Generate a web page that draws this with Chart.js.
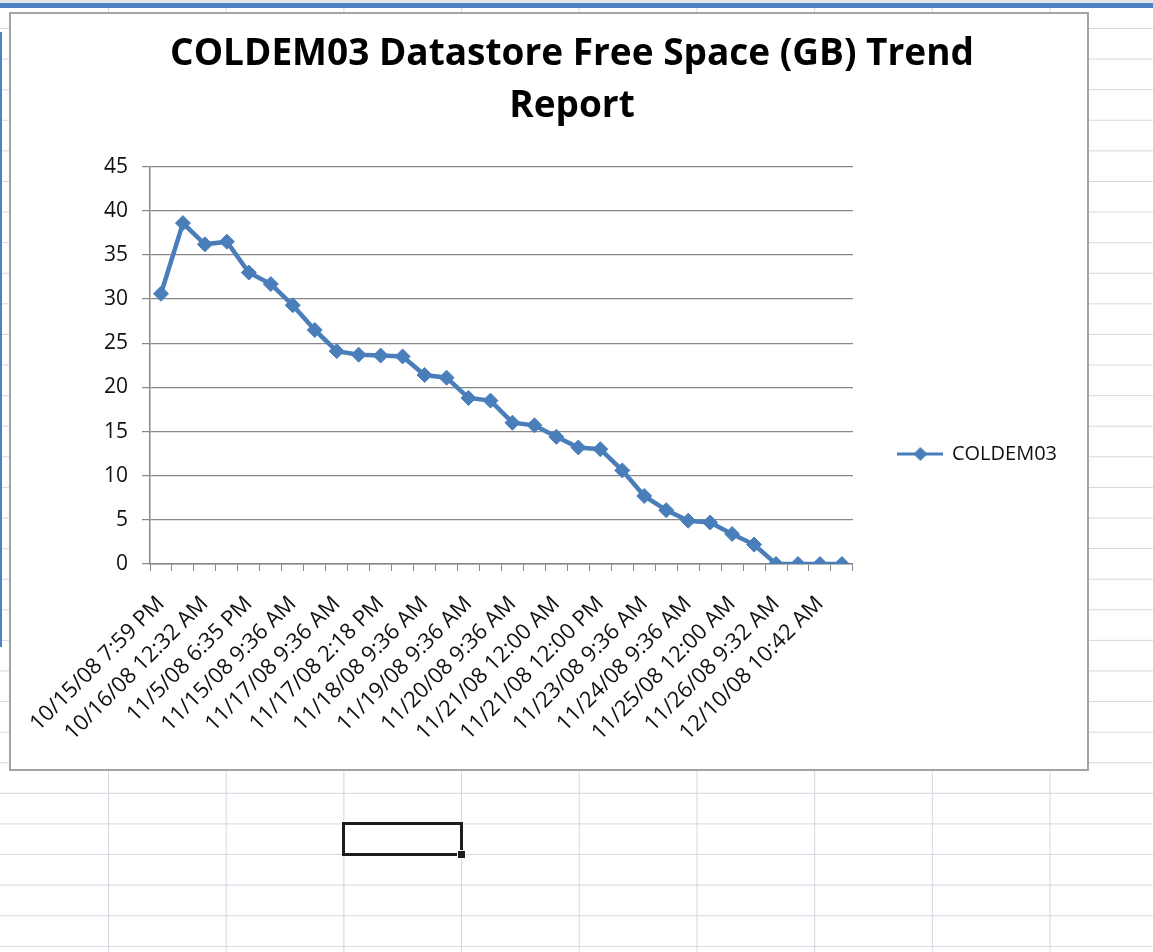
<!DOCTYPE html>
<html>
<head>
<meta charset="utf-8">
<title>COLDEM03 Datastore Free Space (GB) Trend Report</title>
<script src="https://cdn.jsdelivr.net/npm/chart.js@4.4.1/dist/chart.umd.min.js"></script>
<style>
  html, body {
    margin: 0;
    padding: 0;
    width: 1153px;
    height: 952px;
    overflow: hidden;
    background-color: #fff;
  }
  /* worksheet cells behind the chart */
  .sheet {
    position: absolute;
    left: 0; top: 0;
    width: 1153px; height: 952px;
    background-image:
      linear-gradient(to bottom, #d3d8e1 1px, transparent 1px),
      linear-gradient(to right, #d3d8e1 1px, transparent 1px);
    background-size: 100% 30.6px, 117.7px 100%;
    background-position: 0 28px, 108px 0;
  }
  .topbar {
    position: absolute;
    left: 0; top: 0;
    width: 1153px; height: 3px;
    background: #e4e7ec;
  }
  .topbar2 {
    position: absolute;
    left: 0; top: 3px;
    width: 1153px; height: 5px;
    background: #4f82c4;
  }
  .sidebar {
    position: absolute;
    left: 0; top: 32px;
    width: 2px; height: 615px;
    background: #4f82c4;
  }
  .chart-box {
    position: absolute;
    left: 9px; top: 12px;
    width: 1076px; height: 755px;
    border: 2px solid #a3a3a3;
    background: #fff;
  }
  .chart-box canvas {
    position: absolute;
    left: 0; top: 0;
  }
  .cell {
    position: absolute;
    left: 342px; top: 822px;
    width: 115px; height: 28px;
    border: 3px solid #1c1c1c;
  }
  .handle {
    position: absolute;
    left: 457px; top: 850px;
    width: 7px; height: 7px;
    background: #1c1c1c;
    border: 1px solid #fff;
  }
</style>
</head>
<body>
<div class="sheet"></div>
<div class="topbar"></div>
<div class="topbar2"></div>
<div class="sidebar"></div>
<div class="chart-box">
  <canvas id="trendChart" width="1076" height="755"></canvas>
</div>
<div class="cell"></div>
<div class="handle"></div>

<script>
// sample times (only every other one is printed on the axis)
const sampleTimes = [
  '10/15/08 7:59 PM', '10/15/08 10:16 PM',
  '10/16/08 12:32 AM', '10/21/08 9:36 AM',
  '11/5/08 6:35 PM', '11/10/08 9:36 AM',
  '11/15/08 9:36 AM', '11/16/08 9:36 AM',
  '11/17/08 9:36 AM', '11/17/08 12:00 PM',
  '11/17/08 2:18 PM', '11/18/08 12:00 AM',
  '11/18/08 9:36 AM', '11/18/08 9:36 PM',
  '11/19/08 9:36 AM', '11/19/08 9:36 PM',
  '11/20/08 9:36 AM', '11/20/08 9:36 PM',
  '11/21/08 12:00 AM', '11/21/08 9:36 AM',
  '11/21/08 12:00 PM', '11/22/08 9:36 AM',
  '11/23/08 9:36 AM', '11/23/08 9:36 PM',
  '11/24/08 9:36 AM', '11/24/08 9:36 PM',
  '11/25/08 12:00 AM', '11/25/08 9:36 AM',
  '11/26/08 9:32 AM', '12/3/08 9:36 AM',
  '12/10/08 10:42 AM', '12/10/08 2:15 PM'
];

// free space in GB
const freeSpaceGB = [
  30.6, 38.6, 36.2, 36.5, 33.0, 31.7, 29.3, 26.5,
  24.1, 23.7, 23.6, 23.5, 21.4, 21.1, 18.8, 18.5,
  16.0, 15.7, 14.4, 13.2, 13.0, 10.6, 7.7, 6.1,
  4.9, 4.7, 3.4, 2.2, 0, 0, 0, 0
];

const seriesName = 'COLDEM03';
const chartTitle = ['COLDEM03 Datastore Free Space (GB) Trend', 'Report'];
const yTicks = { min: 0, max: 45, step: 5 };

const lineBlue = '#4a7ebb';
const axisGray = '#878787';
const fontFamily = "'Open Sans', 'Liberation Sans', sans-serif";

// little line-with-diamond sample for the legend
function makeLegendMark() {
  const c = document.createElement('canvas');
  c.width = 46;
  c.height = 16;
  const g = c.getContext('2d');
  g.strokeStyle = lineBlue;
  g.lineWidth = 3;
  g.beginPath();
  g.moveTo(0, 8);
  g.lineTo(46, 8);
  g.stroke();
  g.fillStyle = lineBlue;
  g.beginPath();
  g.moveTo(23, 1);
  g.lineTo(30, 8);
  g.lineTo(23, 15);
  g.lineTo(16, 8);
  g.closePath();
  g.fill();
  return c;
}

document.addEventListener('DOMContentLoaded', () => {
  const legendMark = makeLegendMark();
  const ctx = document.getElementById('trendChart').getContext('2d');

  new Chart(ctx, {
    type: 'line',
    data: {
      labels: sampleTimes,
      datasets: [{
        label: seriesName,
        data: freeSpaceGB,
        borderColor: lineBlue,
        backgroundColor: lineBlue,
        borderWidth: 4.5,
        pointStyle: 'rectRot',
        pointRadius: 7.5,
        pointHoverRadius: 9,
        pointBorderWidth: 1,
        pointBackgroundColor: lineBlue,
        pointBorderColor: lineBlue,
        tension: 0,
        fill: false
      }]
    },
    options: {
      responsive: false,
      animation: false,
      devicePixelRatio: 1,
      // left padding nudges the title a little right of centre, like the sheet chart
      layout: { padding: { left: 66, right: 20, top: 0, bottom: 0 } },
      plugins: {
        title: {
          display: true,
          text: chartTitle,
          color: '#000',
          font: { family: fontFamily, size: 37, weight: 'bold', lineHeight: 1.4 },
          padding: { top: 15, bottom: 34 }
        },
        legend: {
          position: 'right',
          title: {
            display: true,
            text: '',
            font: { size: 10, lineHeight: 1 },
            padding: { top: 0, bottom: 115 }
          },
          labels: {
            usePointStyle: true,
            pointStyleWidth: 43,
            padding: 46,
            color: '#111',
            font: { family: fontFamily, size: 20 },
            generateLabels(chart) {
              const items = Chart.defaults.plugins.legend.labels.generateLabels(chart);
              items.forEach(it => { it.pointStyle = legendMark; });
              return items;
            }
          }
        },
        tooltip: { enabled: true }
      },
      scales: {
        x: {
          type: 'category',
          offset: true,
          afterFit(scale) { scale.height = 205; },
          grid: {
            display: true,
            offset: true,
            drawOnChartArea: false,
            drawTicks: true,
            tickLength: 7,
            color: axisGray
          },
          border: { display: true, color: axisGray, width: 1.5 },
          ticks: {
            autoSkip: false,
            maxRotation: 45,
            minRotation: 45,
            padding: 20,
            color: '#111',
            font: { family: fontFamily, size: 22 },
            callback(value, index) {
              return index % 2 === 0 ? this.getLabelForValue(value) : '';
            }
          }
        },
        y: {
          min: yTicks.min,
          max: yTicks.max,
          afterFit(scale) { scale.width = 73; },
          grid: {
            color: axisGray,
            lineWidth: 1.2,
            drawTicks: true,
            tickLength: 8
          },
          border: { display: true, color: axisGray, width: 1.5 },
          ticks: {
            stepSize: yTicks.step,
            padding: 14,
            color: '#111',
            font: { family: fontFamily, size: 21 }
          }
        }
      }
    }
  });
});
</script>
</body>
</html>
